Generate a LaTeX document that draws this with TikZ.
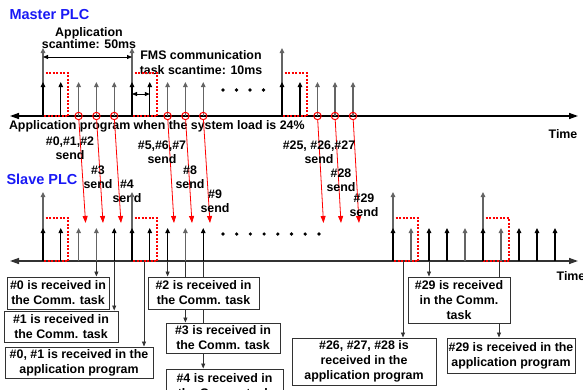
\documentclass[tikz,border=0pt]{standalone}
\usepackage{fontspec}
\setmainfont{Liberation Sans}
\usetikzlibrary{arrows.meta,backgrounds,positioning}
\definecolor{plcblue}{RGB}{25,25,245}
\definecolor{tickgray}{RGB}{100,100,100}
\definecolor{axisgray}{RGB}{50,50,50}
% row of upward ticks: base y, height, colour, x list
\newcommand{\tickrow}[4]{%
  \foreach \tx in {#4}{\draw[tickline,#3] (\tx,#1) -- ++(0,-#2);}
}
% dashed frame of one application scan
\newcommand{\appscan}[3]{%
  \draw[red,line width=1.1pt,dash pattern=on 2pt off 1.5pt] (#1,#2) rectangle (#3,#2-43);
}

\begin{document}
\begin{tikzpicture}[x=1pt,y=-1pt,font=\fontsize{12.4}{15}\selectfont\bfseries,
    tickline/.style={line width=1.1pt,-{Triangle[length=5pt,width=4.5pt]}},
    axis/.style={line width=1.4pt,{Triangle[length=9pt,width=6pt]}-{Triangle[length=9pt,width=6pt]}},
    dimarrow/.style={line width=.8pt,{Triangle[length=5pt,width=4pt]}-{Triangle[length=5pt,width=4pt]}},
    ring/.style={circle,draw=red,line width=1pt,minimum size=7.4pt,inner sep=0pt},
    sendarrow/.style={red,line width=.8pt,-{Triangle[length=7pt,width=5pt]}},
    rxarrow/.style={axisgray,line width=.8pt,-{Triangle[length=5pt,width=4pt]}},
    plc/.style={anchor=west,text=plcblue,font=\fontsize{14.5}{16}\selectfont\bfseries},
    msg/.style={align=center,font=\fontsize{12.4}{14}\selectfont\bfseries},
    rxbox/.style={draw=axisgray,line width=1pt,fill=white,align=center,inner sep=1pt}]
    \useasboundingbox (0,0) rectangle (583,389);

    % master side
    \node[plc] (mplc) at (6,15) {Master PLC};
    \node[align=center,font=\fontsize{12.4}{12}\selectfont\bfseries] (appscantxt) at (89,38) {Application\\scantime: 50ms};
    \node[align=center] (fmsscantxt) at (201,62.5) {FMS communication\\task scantime: 10ms};
    \coordinate (mleft) at (10,116);
    \coordinate (mright) at (578,116);
    \draw[axis] (mleft) -- (mright);
    \appscan{43}{116}{68}
    \appscan{132}{116}{157}
    \appscan{282}{116}{307}
    \tickrow{116}{68}{tickgray}{43,132,282}
    \tickrow{116}{34}{black}{43,60.8,132,149.8,282,300}
    \tickrow{116}{34}{tickgray}{78.6,96.4,114.2,167.6,185.4,203.2,317.5,335,353}
    \foreach \dx in {223,236.5,250,263.5}{\fill (\dx,90) circle (1.8);}
    \coordinate (app0) at (43,57);
    \coordinate (app1) at (132,57);
    \draw[dimarrow] (app0) -- (app1);
    \coordinate (fms0) at (132,94);
    \coordinate (fms1) at (149.8,94);
    \draw[dimarrow] (fms0) -- (fms1);
    \node[anchor=west] (loadtxt) at (5.5,126) {Application program when the system load is 24\%};
    \node (mtime) at (563,134) {Time};

    % sends from master to slave
    \foreach \cx/\cn/\tx in {78.6/s012/85.6,96.4/s3/103,114.2/s4/121,167.6/s567/174,185.4/s8/192,203.2/s9/210,317.5/s2527/323.5,335/s28/341,353/s29/359}{
      \node[ring] (\cn) at (\cx,116) {};
      \coordinate (\cn-end) at (\tx,223);
      \draw[sendarrow] (\cn) -- (\cn-end);
    }
    \node[msg] (l012) at (70,148) {\#0,\#1,\#2\\send};
    \node[msg] (l3) at (98,177) {\#3\\send};
    \node[msg] (l4) at (127,191) {\#4\\send};
    \node[msg] (l567) at (162,152) {\#5,\#6,\#7\\send};
    \node[msg] (l8) at (190,177.5) {\#8\\send};
    \node[msg] (l9) at (215,201) {\#9\\send};
    \node[msg] (l2527) at (319,152) {\#25, \#26,\#27\\send};
    \node[msg] (l28) at (341,180) {\#28\\send};
    \node[msg] (l29) at (364,205) {\#29\\send};

    % slave side
    \node[plc] (splc) at (3,179) {Slave PLC};
    \coordinate (sleft) at (10,261);
    \coordinate (sright) at (578,261);
    \draw[axis,axisgray] (sleft) -- (sright);
    \appscan{43}{261}{68}
    \appscan{132}{261}{157}
    \appscan{393}{261}{418}
    \appscan{483}{261}{509}
    \tickrow{261}{69}{tickgray}{43,132,393,483}
    \tickrow{261}{33}{black}{43,60.8,114.2,132,149.8,167.6,203.2,393,429,447,483,519,537,555}
    \tickrow{261}{33}{tickgray}{78.6,96.4,185.4,411,465,501}
    \foreach \dx in {223,236.7,250.4,264.1,277.8,291.5,305.2,319}{\fill (\dx,234) circle (1.8);}
    \node (stime) at (571,276) {Time};

    % receive boxes
    \node[rxbox,minimum width=102,minimum height=32] (rx0) at (58,293) {\#0 is received in\\the Comm. task};
    \node[rxbox,minimum width=114,minimum height=31] (rx1) at (61,326.5) {\#1 is received in\\the Comm. task};
    \node[rxbox,minimum width=148,minimum height=31] (rx01) at (79,362.5) {\#0, \#1 is received in the\\application program};
    \node[rxbox,minimum width=111,minimum height=32] (rx2) at (203.5,293) {\#2 is received in\\the Comm. task};
    \node[rxbox,minimum width=114,minimum height=30] (rx3) at (223,338) {\#3 is received in\\the Comm. task};
    \node[rxbox,minimum width=117,minimum height=34] (rx4) at (224.5,386) {\#4 is received in\\the Comm. task};
    \node[rxbox,minimum width=102,minimum height=46] (rx29) at (459,300) {\#29 is received\\in the Comm.\\task};
    \node[rxbox,minimum width=144,minimum height=47] (rx2628) at (364,361.5) {\#26, \#27, \#28 is\\received in the\\application program};
    \node[rxbox,minimum width=128,minimum height=35] (rx29app) at (511,355.5) {\#29 is received in the\\application program};

    \begin{scope}[on background layer]
      \foreach \qx/\bn in {96.4/rx0,114.2/rx1,144/rx01,167.6/rx2,185.4/rx3,203.2/rx4,403/rx2628,429/rx29,499/rx29app}{
        \coordinate (q-\bn) at (\qx,261);
        \draw[rxarrow] (q-\bn) -- (q-\bn |- \bn.north);
      }
    \end{scope}
\end{tikzpicture}
\end{document}
